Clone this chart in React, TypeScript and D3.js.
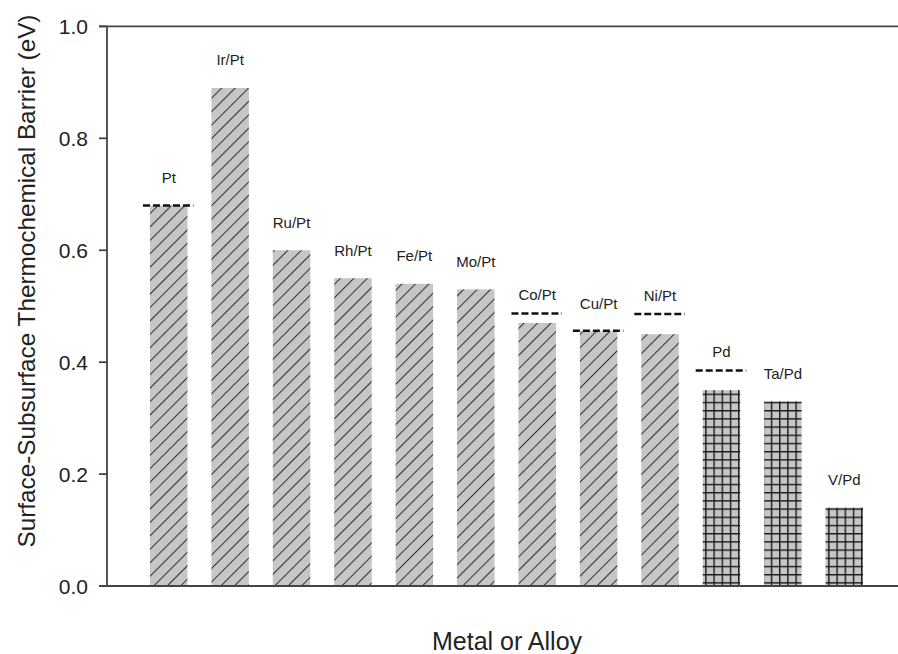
import React from "react";
import * as d3 from "d3";

const categories = ["Pt", "Ir/Pt", "Ru/Pt", "Rh/Pt", "Fe/Pt", "Mo/Pt", "Co/Pt", "Cu/Pt", "Ni/Pt", "Pd", "Ta/Pd", "V/Pd"];
const barrierValues = [0.68, 0.89, 0.6, 0.55, 0.54, 0.53, 0.47, 0.455, 0.45, 0.35, 0.33, 0.14];
const pureMetalValues: (number | null)[] = [0.68, null, null, null, null, null, 0.487, 0.456, 0.486, 0.385, null, null];
const hostMetal = ["Pt", "Pt", "Pt", "Pt", "Pt", "Pt", "Pt", "Pt", "Pt", "Pd", "Pd", "Pd"];
const yTicks = [0, 0.2, 0.4, 0.6, 0.8, 1.0];

const W = 898;
const H = 654;
const left = 107;
const top = 26.4;
const bottom = 586;

export default function App() {
  const x = d3.scaleBand<string>().domain(categories).range([left, 906]).paddingInner(0.39).paddingOuter(0.7);
  const y = d3.scaleLinear().domain([0, 1]).range([bottom, top]);
  const bw = x.bandwidth();
  const font = "'Liberation Sans', Arial, Helvetica, sans-serif";

  return (
    <svg width={W} height={H} style={{ position: "absolute", left: 0, top: 0, background: "#fff" }} fontFamily={font}>
      <defs>
        <pattern id="diag" patternUnits="userSpaceOnUse" width={9.5} height={10} patternTransform="rotate(45)">
          <rect x={0} y={0} width={9.5} height={10} fill="#c6c6c6" />
          <line x1={0.5} y1={0} x2={0.5} y2={10} stroke="#333" strokeWidth={1.1} />
        </pattern>
        <pattern id="grid" patternUnits="userSpaceOnUse" width={8.2} height={8.2} x={0} y={0}>
          <rect x={0} y={0} width={8.2} height={8.2} fill="#c6c6c6" />
          <line x1={0.7} y1={0} x2={0.7} y2={8.2} stroke="#1a1a1a" strokeWidth={1.4} />
          <line x1={0} y1={0.7} x2={8.2} y2={0.7} stroke="#1a1a1a" strokeWidth={1.4} />
        </pattern>
      </defs>

      {categories.map((c, i) => {
        const x0 = x(c)!;
        const yb = y(barrierValues[i]);
        return (
          <rect key={c} x={x0} y={yb} width={bw} height={bottom - yb} fill={hostMetal[i] === "Pt" ? "url(#diag)" : "url(#grid)"} />
        );
      })}

      {categories.map((c, i) => {
        const v = pureMetalValues[i];
        if (v == null) return null;
        const x0 = x(c)!;
        return (
          <line key={"d" + c} x1={x0 - 7} x2={x0 + bw + 6} y1={y(v)} y2={y(v)} stroke="#111" strokeWidth={2.6} strokeDasharray="7,3" />
        );
      })}

      {categories.map((c, i) => {
        const v = pureMetalValues[i];
        const yb = y(barrierValues[i]) - 28;
        const yd = v == null ? Infinity : y(v) - 19;
        const ly = Math.min(yb, yd);
        return (
          <text key={"l" + c} x={x(c)! + bw / 2} y={ly} fontSize={15} textAnchor="middle" dominantBaseline="central" fill="#222">
            {c}
          </text>
        );
      })}

      {/* axes */}
      <line x1={left} x2={left} y1={top} y2={bottom} stroke="#444" strokeWidth={1.8} />
      <line x1={99} x2={W} y1={bottom} y2={bottom} stroke="#444" strokeWidth={1.8} />
      <line x1={99} x2={W} y1={top} y2={top} stroke="#444" strokeWidth={1.8} />
      {yTicks.map((t) => (
        <g key={t}>
          <line x1={99} x2={left} y1={y(t)} y2={y(t)} stroke="#444" strokeWidth={1.8} />
          <text x={88} y={y(t)} fontSize={21} textAnchor="end" dominantBaseline="central" fill="#222">
            {d3.format(".1f")(t)}
          </text>
        </g>
      ))}

      <text x={507} y={641} fontSize={25} textAnchor="middle" dominantBaseline="central" fill="#222">
        Metal or Alloy
      </text>
      <text transform={`translate(26,281) rotate(-90)`} fontSize={24.3} textAnchor="middle" dominantBaseline="central" fill="#222">
        Surface-Subsurface Thermochemical Barrier (eV)
      </text>
    </svg>
  );
}
